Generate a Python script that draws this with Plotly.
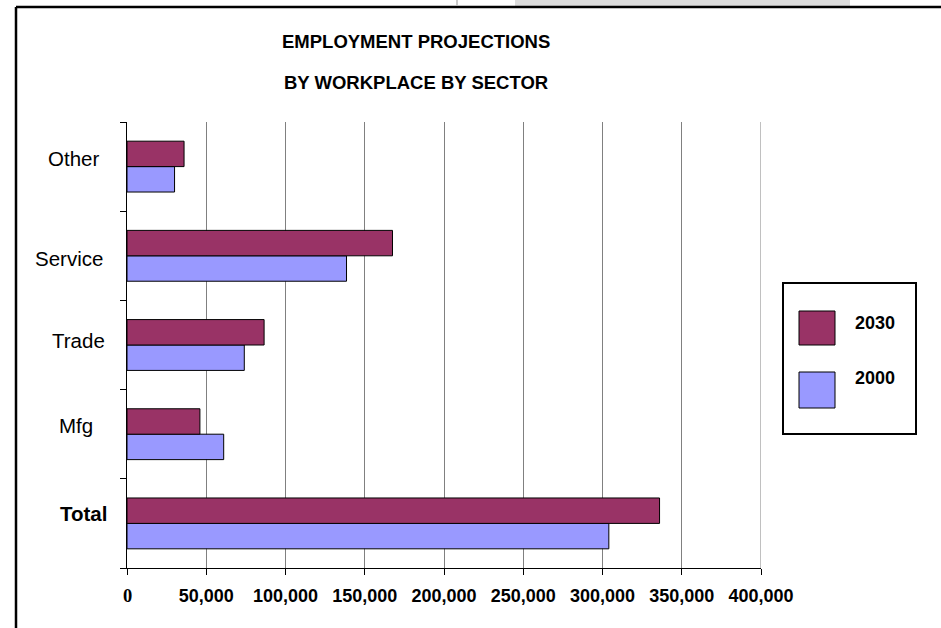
import plotly.graph_objects as go

# ---- data ----
categories = ["Total", "Mfg", "Trade", "Service", "Other"]
series_names = ["2030", "2000"]
emp_2030 = [336000, 46000, 86500, 167500, 36000]
emp_2000 = [304000, 61000, 74000, 138500, 30000]
x_ticks = [0, 50000, 100000, 150000, 200000, 250000, 300000, 350000, 400000]
x_tick_labels = ["0", "50,000", "100,000", "150,000", "200,000", "250,000",
                 "300,000", "350,000", "400,000"]
title_lines = ["EMPLOYMENT PROJECTIONS", "BY WORKPLACE BY SECTOR"]

# ---- layout geometry (pixels) ----
W, H = 941, 628
L, R, T, B = 127, 180, 122, 60
PW, PH = W - L - R, H - T - B

def px(x):
    return (x - L) / PW

def py(y):
    return (H - B - y) / PH

C2030 = "#993366"
C2000 = "#9999FF"
FONT = "Liberation Sans, Arial, sans-serif"
SERIF = "Liberation Serif, Times New Roman, serif"

fig = go.Figure()
fig.add_trace(go.Bar(y=categories, x=emp_2000, name=series_names[1], orientation="h",
                     marker=dict(color=C2000, line=dict(color="black", width=1))))
fig.add_trace(go.Bar(y=categories, x=emp_2030, name=series_names[0], orientation="h",
                     marker=dict(color=C2030, line=dict(color="black", width=1))))

# the "0" label is drawn in a serif face as a separate annotation
tick_text = ["" if t == "0" else t for t in x_tick_labels]

fig.update_layout(
    width=W, height=H,
    margin=dict(l=L, r=R, t=T, b=B, pad=0),
    paper_bgcolor="white", plot_bgcolor="white",
    barmode="group", bargap=0.43, bargroupgap=0,
    showlegend=False,
    font=dict(family=FONT, color="black"),
    xaxis=dict(range=[0, 400000], tickmode="array", tickvals=x_ticks, ticktext=tick_text,
               showgrid=True, gridcolor="#808080", gridwidth=1, zeroline=False,
               showline=True, linecolor="black", linewidth=1,
               ticks="outside", ticklen=6, tickcolor="black",
               tickfont=dict(family=FONT, size=18, weight="bold", color="black"),
               ticklabelstandoff=5, fixedrange=True),
    yaxis=dict(type="category", categoryorder="array", categoryarray=categories,
               range=[-0.5, len(categories) - 0.5], tickson="boundaries",
               ticks="outside", ticklen=6, tickcolor="black",
               showticklabels=False, showgrid=False, zeroline=False,
               showline=True, linecolor="black", linewidth=1, fixedrange=True),
)

for v, t in zip(x_ticks, x_tick_labels):
    if t == "0":
        fig.add_annotation(x=v, xref="x", y=py(596), yref="paper", text="<b>" + t + "</b>",
                           showarrow=False, xanchor="center", yanchor="middle",
                           font=dict(family=SERIF, size=18.5, color="black"))

# category labels
label_x = [83.5, 76, 78.3, 69, 73.5]
label_yshift = [10, 8.5, 5, -3, 8]
for cat, lx, ys in zip(categories, label_x, label_yshift):
    txt = "<b>" + cat + "</b>" if cat == "Total" else cat
    fig.add_annotation(x=px(lx), xref="paper", y=cat, yref="y", yshift=ys,
                       text=txt, showarrow=False, xanchor="center", yanchor="middle",
                       font=dict(family=FONT, size=20.5, color="black"))

# title
for line, yc in zip(title_lines, [41, 82.5]):
    fig.add_annotation(x=px(416), xref="paper", y=py(yc), yref="paper", text="<b>" + line + "</b>",
                       showarrow=False, xanchor="center", yanchor="middle",
                       font=dict(family=FONT, size=18.5, color="black"))

shapes = []
# gridline at the right end of the value axis
shapes.append(dict(type="line", xref="x", yref="paper", x0=x_ticks[-1], x1=x_ticks[-1],
                   y0=0, y1=1, line=dict(color="#808080", width=1)))
# outer chart border (left and top edges visible)
shapes.append(dict(type="line", xref="paper", yref="paper", x0=px(16), x1=px(16),
                   y0=py(7), y1=py(660), line=dict(color="black", width=2.5)))
shapes.append(dict(type="line", xref="paper", yref="paper", x0=px(16), x1=px(980),
                   y0=py(7), y1=py(7), line=dict(color="black", width=2.5)))
# page artefacts above the chart
shapes.append(dict(type="rect", xref="paper", yref="paper", x0=px(515), x1=px(850),
                   y0=py(6), y1=py(-5), fillcolor="#dcdcdc", line=dict(width=0), layer="below"))
shapes.append(dict(type="line", xref="paper", yref="paper", x0=px(457), x1=px(457),
                   y0=py(6), y1=py(-5), line=dict(color="#b8b8b8", width=1.5)))
# legend box
shapes.append(dict(type="rect", xref="paper", yref="paper", x0=px(783), x1=px(916),
                   y0=py(434), y1=py(283), fillcolor="white", line=dict(color="black", width=2)))
leg_items = [(series_names[0], C2030, 311, 345, 321), (series_names[1], C2000, 372, 408, 376)]
for name, col, y0, y1, ty in leg_items:
    shapes.append(dict(type="rect", xref="paper", yref="paper", x0=px(799), x1=px(835),
                       y0=py(y1), y1=py(y0), fillcolor=col, line=dict(color="black", width=1)))
    fig.add_annotation(x=px(853), xref="paper", y=py(ty + 1.5), yref="paper",
                       text="<b>" + name + "</b>", showarrow=False,
                       xanchor="left", yanchor="middle",
                       font=dict(family=FONT, size=18, color="black"))
fig.update_layout(shapes=shapes)

fig.write_html("out.html", config={"displayModeBar": False},
               post_script="document.body.style.margin='0px';document.body.style.overflow='hidden';")
